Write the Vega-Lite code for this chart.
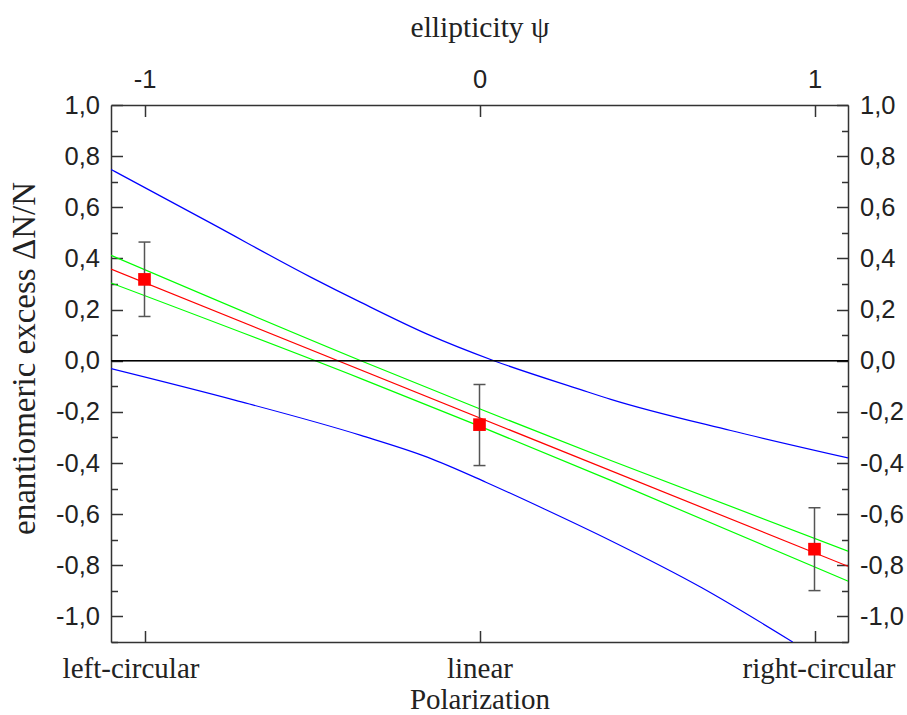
{
  "$schema": "https://vega.github.io/schema/vega-lite/v6.json",
  "autosize": "none",
  "width": 737,
  "height": 537,
  "padding": {"left": 111, "top": 105, "right": 59, "bottom": 73},
  "background": "white",
  "config": {"view": {"stroke": null}, "axis": {"grid": false}},
  "datasets": {
    "curves": [
      {"s": "blueU", "x": -1.1, "y": 0.748},
      {"s": "blueU", "x": -0.802, "y": 0.538},
      {"s": "blueU", "x": -0.504, "y": 0.327},
      {"s": "blueU", "x": -0.354, "y": 0.228},
      {"s": "blueU", "x": -0.156, "y": 0.104},
      {"s": "blueU", "x": 0.043, "y": 0.0},
      {"s": "blueU", "x": 0.302, "y": -0.113},
      {"s": "blueU", "x": 0.392, "y": -0.151},
      {"s": "blueU", "x": 0.75, "y": -0.273},
      {"s": "blueU", "x": 1.1, "y": -0.38},
      {"s": "blueL", "x": -1.1, "y": -0.031},
      {"s": "blueL", "x": -0.728, "y": -0.155},
      {"s": "blueL", "x": -0.354, "y": -0.292},
      {"s": "blueL", "x": -0.156, "y": -0.377},
      {"s": "blueL", "x": 0.019, "y": -0.475},
      {"s": "blueL", "x": 0.192, "y": -0.579},
      {"s": "blueL", "x": 0.392, "y": -0.704},
      {"s": "blueL", "x": 0.661, "y": -0.886},
      {"s": "blueL", "x": 0.935, "y": -1.1},
      {"s": "greenU", "x": -1.1, "y": 0.412},
      {"s": "greenU", "x": -0.354, "y": 0.0},
      {"s": "greenU", "x": 0.0, "y": -0.188},
      {"s": "greenU", "x": 0.392, "y": -0.39},
      {"s": "greenU", "x": 1.1, "y": -0.745},
      {"s": "greenL", "x": -1.1, "y": 0.304},
      {"s": "greenL", "x": -0.354, "y": -0.07},
      {"s": "greenL", "x": 0.0, "y": -0.256},
      {"s": "greenL", "x": 0.392, "y": -0.468},
      {"s": "greenL", "x": 1.1, "y": -0.862},
      {"s": "red", "x": -1.1, "y": 0.358},
      {"s": "red", "x": 1.1, "y": -0.804}
    ],
    "points": [
      {"x": -1, "y": 0.318, "lo": 0.173, "hi": 0.464},
      {"x": 0, "y": -0.25, "lo": -0.41, "hi": -0.093},
      {"x": 1, "y": -0.737, "lo": -0.899, "hi": -0.575}
    ]
  },
  "resolve": {"scale": {"x": "shared", "y": "shared"}, "axis": {"x": "independent", "y": "independent"}},
  "layer": [
    {
      "data": {"name": "curves"},
      "transform": [{"filter": "datum.s === 'blueU' || datum.s === 'blueL'"}],
      "mark": {"type": "line", "color": "#0000ff", "strokeWidth": 1.2, "clip": true, "interpolate": "monotone"},
      "encoding": {
        "detail": {"field": "s"},
        "x": {
          "field": "x", "type": "quantitative",
          "scale": {"domain": [-1.1, 1.1], "nice": false, "zero": false},
          "axis": {
            "orient": "bottom", "values": [-1, 0, 1],
            "labelExpr": "datum.value < -0.5 ? 'left-circular' : (datum.value > 0.5 ? 'right-circular' : 'linear')",
            "labelOffset": {"condition": [{"test": "datum.value < -0.5", "value": -14}, {"test": "datum.value > 0.5", "value": 4}], "value": 0},
            "tickSize": -11.5, "tickWidth": 1.5, "tickColor": "#333",
            "domainColor": "#333", "domainWidth": 1.5,
            "labelFont": "Liberation Serif", "labelFontSize": 29, "labelColor": "#222",
            "labelPadding": 24, "labelFlush": false, "labelOverlap": false, "labelBound": false,
            "title": "Polarization", "titleFont": "Liberation Serif", "titleFontSize": 29,
            "titleFontWeight": "normal", "titleColor": "#222", "titlePadding": 2
          }
        },
        "y": {
          "field": "y", "type": "quantitative",
          "scale": {"domain": [-1.1, 1.0], "nice": false, "zero": false},
          "axis": {
            "orient": "left", "values": [-1, -0.8, -0.6, -0.4, -0.2, 0, 0.2, 0.4, 0.6, 0.8, 1.0],
            "labelExpr": "(datum.value < -0.001 ? '-' : '') + replace(format(abs(datum.value), '.1f'), '.', ',')",
            "tickSize": -11.5, "tickWidth": 1.5, "tickColor": "#333",
            "domainColor": "#333", "domainWidth": 1.5,
            "labelFont": "Liberation Sans", "labelFontSize": 25.5, "labelColor": "#222",
            "labelPadding": 23, "labelOverlap": false, "labelFlush": false, "labelBound": false,
            "title": "enantiomeric excess ΔN/N", "titleFont": "Liberation Serif", "titleFontSize": 33,
            "titleFontWeight": "normal", "titleColor": "#222",
            "titleX": -77, "titleY": 253, "titleAngle": -90, "titleAlign": "center", "titleBaseline": "alphabetic"
          }
        }
      }
    },
    {
      "data": {"name": "curves"},
      "transform": [{"filter": "datum.s === 'greenU' || datum.s === 'greenL'"}],
      "mark": {"type": "line", "color": "#00ff00", "strokeWidth": 1.2, "clip": true, "interpolate": "monotone"},
      "encoding": {
        "detail": {"field": "s"},
        "x": {
          "field": "x", "type": "quantitative",
          "scale": {"domain": [-1.1, 1.1], "nice": false, "zero": false},
          "axis": {
            "orient": "top", "values": [-1, 0, 1],
            "labelExpr": "(datum.value < 0 ? '-' : '') + format(abs(datum.value), 'd')",
            "tickSize": -11.5, "tickWidth": 1.5, "tickColor": "#333",
            "domainColor": "#333", "domainWidth": 1.5,
            "labelFont": "Liberation Sans", "labelFontSize": 25.5, "labelColor": "#222",
            "labelPadding": 24, "labelFlush": false, "labelOverlap": false, "labelBound": false,
            "title": "ellipticity ψ", "titleFont": "Liberation Serif", "titleFontSize": 29.5,
            "titleFontWeight": "normal", "titleColor": "#222", "titlePadding": 25
          }
        },
        "y": {
          "field": "y", "type": "quantitative",
          "scale": {"domain": [-1.1, 1.0], "nice": false, "zero": false},
          "axis": {
            "orient": "right", "values": [-1, -0.8, -0.6, -0.4, -0.2, 0, 0.2, 0.4, 0.6, 0.8, 1.0],
            "labelExpr": "(datum.value < -0.001 ? '-' : '') + replace(format(abs(datum.value), '.1f'), '.', ',')",
            "tickSize": -11.5, "tickWidth": 1.5, "tickColor": "#333",
            "domainColor": "#333", "domainWidth": 1.5,
            "labelFont": "Liberation Sans", "labelFontSize": 25.5, "labelColor": "#222",
            "labelPadding": 23, "labelOverlap": false, "labelFlush": false, "labelBound": false,
            "title": null
          }
        }
      }
    },
    {
      "data": {"name": "curves"},
      "transform": [{"filter": "datum.s === 'red'"}],
      "mark": {"type": "line", "color": "#ff0000", "strokeWidth": 1.2, "clip": true},
      "encoding": {
        "x": {"field": "x", "type": "quantitative", "scale": {"domain": [-1.1, 1.1], "nice": false, "zero": false}, "axis": null},
        "y": {
          "field": "y", "type": "quantitative",
          "scale": {"domain": [-1.1, 1.0], "nice": false, "zero": false},
          "axis": {
            "orient": "left", "values": [-1.1, -0.9, -0.7, -0.5, -0.3, -0.1, 0.1, 0.3, 0.5, 0.7, 0.9],
            "tickSize": -6.5, "tickWidth": 1.5, "tickColor": "#333",
            "domain": false, "labels": false, "title": null
          }
        }
      }
    },
    {
      "data": {"name": "points"},
      "mark": {"type": "rule", "color": "#000000", "strokeWidth": 1.2},
      "encoding": {
        "y": {
          "datum": 0, "type": "quantitative",
          "scale": {"domain": [-1.1, 1.0], "nice": false, "zero": false},
          "axis": {
            "orient": "right", "values": [-1.1, -0.9, -0.7, -0.5, -0.3, -0.1, 0.1, 0.3, 0.5, 0.7, 0.9],
            "tickSize": -6.5, "tickWidth": 1.5, "tickColor": "#333",
            "domain": false, "labels": false, "title": null
          }
        }
      }
    },
    {
      "data": {"name": "points"},
      "mark": {"type": "rule", "color": "#555555", "strokeWidth": 1.5},
      "encoding": {
        "x": {"field": "x", "type": "quantitative", "scale": {"domain": [-1.1, 1.1], "nice": false, "zero": false}, "axis": null},
        "y": {"field": "lo", "type": "quantitative", "scale": {"domain": [-1.1, 1.0], "nice": false, "zero": false}, "axis": null},
        "y2": {"field": "hi"}
      }
    },
    {
      "data": {"name": "points"},
      "mark": {"type": "tick", "orient": "horizontal", "color": "#555555", "size": 12, "thickness": 1.5, "opacity": 1},
      "encoding": {
        "x": {"field": "x", "type": "quantitative", "scale": {"domain": [-1.1, 1.1], "nice": false, "zero": false}, "axis": null},
        "y": {"field": "lo", "type": "quantitative", "scale": {"domain": [-1.1, 1.0], "nice": false, "zero": false}, "axis": null}
      }
    },
    {
      "data": {"name": "points"},
      "mark": {"type": "tick", "orient": "horizontal", "color": "#555555", "size": 12, "thickness": 1.5, "opacity": 1},
      "encoding": {
        "x": {"field": "x", "type": "quantitative", "scale": {"domain": [-1.1, 1.1], "nice": false, "zero": false}, "axis": null},
        "y": {"field": "hi", "type": "quantitative", "scale": {"domain": [-1.1, 1.0], "nice": false, "zero": false}, "axis": null}
      }
    },
    {
      "data": {"name": "points"},
      "mark": {"type": "point", "shape": "square", "filled": true, "color": "#ff0000", "size": 160, "opacity": 1},
      "encoding": {
        "x": {"field": "x", "type": "quantitative", "scale": {"domain": [-1.1, 1.1], "nice": false, "zero": false}, "axis": null},
        "y": {"field": "y", "type": "quantitative", "scale": {"domain": [-1.1, 1.0], "nice": false, "zero": false}, "axis": null}
      }
    }
  ]
}
